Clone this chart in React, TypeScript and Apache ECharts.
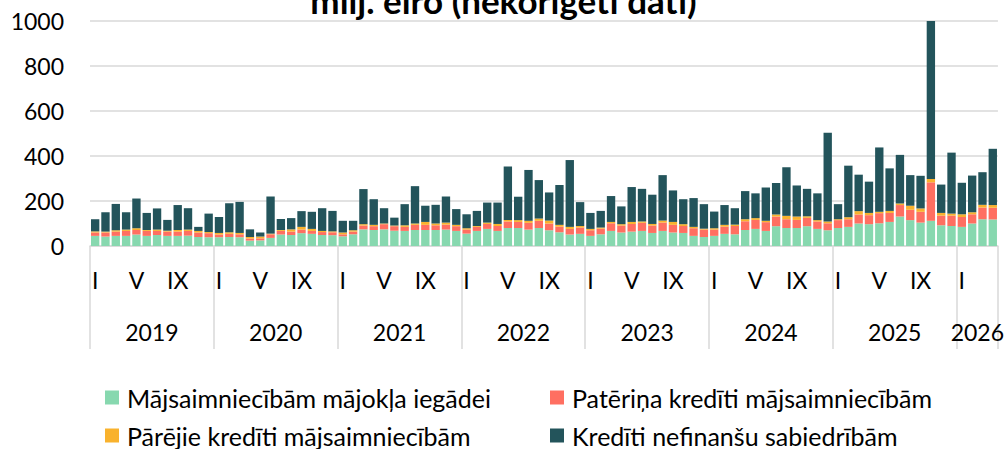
import React, { useEffect, useRef } from "react";
import * as echarts from "echarts";

const FONT = "Lato";

const years = ["2019", "2020", "2021", "2022", "2023", "2024", "2025", "2026"];
const romanMonths = ["I", "II", "III", "IV", "V", "VI", "VII", "VIII", "IX", "X", "XI", "XII"];
const monthsIn2026 = 4;

const seriesNames = [
  "Mājsaimniecībām mājokļa iegādei",
  "Patēriņa kredīti mājsaimniecībām",
  "Pārējie kredīti mājsaimniecībām",
  "Kredīti nefinanšu sabiedrībām",
];

const housing = [
  45, 42, 45, 45, 51, 45, 49, 45, 45, 46, 40, 39,
  39, 40, 39, 24, 25, 36, 51, 49, 57, 54, 49, 48,
  43, 52, 74, 71, 74, 68, 67, 71, 71, 71, 73, 67,
  55, 67, 76, 67, 80, 80, 73, 80, 70, 61, 51, 54,
  45, 52, 67, 60, 64, 67, 58, 67, 60, 58, 45, 40,
  45, 54, 52, 71, 76, 67, 88, 80, 80, 88, 76, 70,
  80, 85, 100, 97, 101, 107, 131, 115, 104, 112, 92, 89,
  85, 100, 119, 118,
];
const consumer = [
  15, 18, 19, 22, 20, 22, 18, 19, 19, 21, 20, 18,
  12, 14, 13, 9, 9, 16, 16, 15, 16, 13, 13, 13,
  9, 12, 17, 17, 23, 20, 18, 23, 23, 21, 22, 21,
  18, 18, 22, 22, 29, 27, 30, 32, 30, 25, 25, 28,
  25, 25, 34, 31, 34, 36, 33, 37, 34, 31, 34, 33,
  28, 32, 37, 39, 40, 39, 43, 39, 36, 37, 33, 31,
  35, 34, 40, 40, 45, 40, 51, 46, 48, 171, 43, 46,
  44, 41, 52, 52,
];
const other = [
  5, 4, 6, 6, 8, 4, 6, 4, 7, 6, 7, 5,
  7, 7, 6, 7, 8, 3, 4, 10, 12, 9, 5, 4,
  8, 6, 6, 6, 3, 3, 7, 6, 13, 8, 9, 6,
  6, 4, 6, 9, 7, 8, 9, 10, 13, 8, 9, 7,
  6, 5, 6, 6, 9, 6, 7, 9, 13, 8, 6, 4,
  6, 8, 6, 9, 8, 6, 9, 15, 15, 7, 6, 8,
  4, 9, 15, 10, 6, 9, 7, 18, 15, 15, 12, 9,
  12, 9, 12, 12,
];
const companies = [
  54, 86, 117, 77, 132, 76, 94, 48, 111, 95, 18, 82,
  71, 129, 138, 34, 18, 165, 49, 50, 70, 76, 101, 91,
  52, 42, 156, 114, 68, 35, 94, 166, 72, 83, 116, 70,
  62, 67, 89, 95, 237, 104, 226, 171, 125, 177, 297, 106,
  71, 74, 115, 79, 155, 145, 130, 202, 140, 111, 128, 109,
  74, 88, 73, 125, 110, 148, 140, 216, 138, 122, 119, 394,
  67, 229, 162, 139, 286, 189, 216, 136, 145, 712, 126, 271,
  140, 163, 145, 250,
];

const colors = ["#87D8AF", "#FF6F61", "#F9B22D", "#23545B"];
const yMin = 0;
const yMax = 1000;
const yInterval = 200;

const categories: string[] = [];
years.forEach((y) => {
  const n = y === "2026" ? monthsIn2026 : 12;
  for (let m = 0; m < n; m++) categories.push(`${y} ${romanMonths[m]}`);
});

export default function App() {
  const ref = useRef<HTMLDivElement>(null);
  useEffect(() => {
    if (!ref.current) return;
    const chart = echarts.init(ref.current, null, { renderer: "svg" });
    const lastYearStart = (years.length - 1) * 12;
    const labelText = { fontFamily: FONT, fontSize: 23, color: "#000" };
    const dataArrays = [housing, consumer, other, companies];
    const legendPos = [
      { left: 105, top: 385 },
      { left: 550, top: 385 },
      { left: 105, top: 423 },
      { left: 550, top: 423 },
    ];
    chart.setOption({
      animation: false,
      title: {
        text: "milj. eiro (nekoriģēti dati)",
        left: "center",
        top: -23,
        textStyle: { fontFamily: FONT, fontWeight: "bold", fontSize: 35, color: "#000" },
      },
      grid: { left: 90, right: 9, top: 21, bottom: 203 },
      xAxis: [
        {
          type: "category",
          data: categories,
          position: "bottom",
          axisLine: { show: true, lineStyle: { color: "#d9d9d9", width: 1.5 } },
          axisTick: {
            show: true,
            interval: (i: number) => i % 12 === 0,
            length: 103,
            lineStyle: { color: "#d9d9d9", width: 1.5 },
          },
          axisLabel: {
            ...labelText,
            interval: (i: number) => [0, 4, 8].includes(i % 12),
            formatter: (v: string) => v.split(" ")[1],
            margin: 22,
          },
        },
        {
          type: "category",
          data: categories,
          position: "bottom",
          axisLine: { show: false },
          axisTick: { show: false },
          axisLabel: {
            ...labelText,
            interval: (i: number) =>
              (i < lastYearStart && i % 12 === 6) ||
              i === lastYearStart + Math.floor(monthsIn2026 / 2),
            formatter: (v: string) => v.split(" ")[0],
            padding: [0, 10.3, 0, 0],
            margin: 74,
          },
        },
      ],
      yAxis: {
        type: "value",
        min: yMin,
        max: yMax,
        interval: yInterval,
        axisLine: { show: false },
        axisTick: { show: false },
        splitLine: { lineStyle: { color: "#d9d9d9", width: 1.5 } },
        axisLabel: { ...labelText, margin: 26, formatter: (v: number) => String(v) },
      },
      legend: seriesNames.map((name, i) => ({
        data: [name],
        left: legendPos[i].left,
        top: legendPos[i].top,
        padding: 0,
        itemWidth: 14,
        itemHeight: 14,
        icon: "rect",
        selectedMode: false,
        textStyle: { ...labelText, fontSize: 25, padding: [0, 0, 0, 3] },
      })),
      series: seriesNames.map((name, i) => ({
        name,
        type: "bar",
        stack: "total",
        xAxisIndex: 0,
        barCategoryGap: "19%",
        itemStyle: { color: colors[i] },
        data: dataArrays[i],
      })),
    });
    return () => chart.dispose();
  }, []);
  return (
    <div
      ref={ref}
      style={{ position: "absolute", left: 0, top: 0, width: 1007, height: 449 }}
    />
  );
}
